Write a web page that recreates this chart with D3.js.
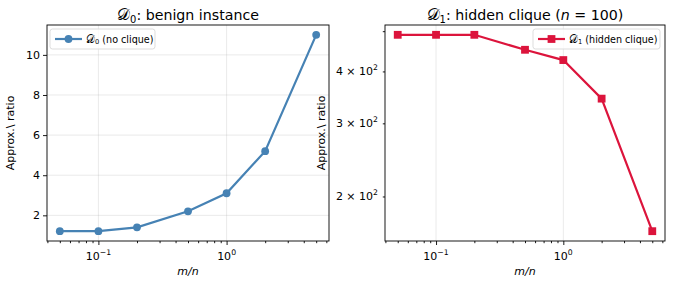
<!DOCTYPE html>
<html>
<head>
<meta charset="utf-8">
<script src="https://cdn.jsdelivr.net/npm/d3@7"></script>
<style>
  body { margin: 0; background: #fff; }
  svg { font-family: "DejaVu Sans", sans-serif; }
</style>
</head>
<body>
<svg id="vis" width="674" height="286"></svg>
<script>
// data
var ratios = [0.05, 0.1, 0.2, 0.5, 1, 2, 5];           // m/n
var benign = [1.21, 1.21, 1.4, 2.2, 3.1, 5.2, 11.0];    // D0 (no clique)
var hidden = [490, 490, 490, 451, 426, 344, 165];       // D1 (hidden clique)
var benignTicks = [2, 4, 6, 8, 10];
var hiddenTicks = [200, 300, 400, 500];
var hiddenLabels = {200: "2", 300: "3", 400: "4"};
var xMajor = [0.1, 1];

var blue = "#4682b4", red = "#dc143c";
var svg = d3.select("#vis");

// matplotlib style 5% margins
var pad = function(lo, hi) { var d = (hi - lo) * 0.05; return [lo - d, hi + d]; };
var logPad = function(vals) {
  var e = pad(Math.log10(d3.min(vals)), Math.log10(d3.max(vals)));
  return [Math.pow(10, e[0]), Math.pow(10, e[1])];
};

var yTop = 25, yBot = 241;
var panels = [
  {x0: 47, x1: 329, data: benign, color: blue, marker: "circle", log: false,
   title: ["0", ": benign instance"], legend: ["0", " (no clique)"], ylabX: 14,
   leg: {x: 50, w: 105}},
  {x0: 385, x1: 665, data: hidden, color: red, marker: "square", log: true,
   title: ["1", ": hidden clique ("], legend: ["1", " (hidden clique)"], ylabX: 325,
   leg: {x: 533, w: 127}}
];

var minors = [];
[0.01, 0.1, 1].forEach(function(dec) {
  for (var k = 2; k <= 9; k++) minors.push(dec * k);
});

panels.forEach(function(p) {
  var x = d3.scaleLog().domain(logPad(ratios)).range([p.x0, p.x1]);
  var y = p.log
    ? d3.scaleLog().domain(logPad(p.data)).range([yBot, yTop])
    : d3.scaleLinear().domain(pad(d3.min(p.data), d3.max(p.data))).range([yBot, yTop]);
  var g = svg.append("g");
  var xd = x.domain();
  var xMinor = minors.filter(function(v) { return v >= xd[0] && v <= xd[1]; });
  var yTicks = p.log ? hiddenTicks : benignTicks;

  // grid
  g.selectAll(".gx").data(xMajor).enter().append("line")
    .attr("x1", function(d) { return x(d); }).attr("x2", function(d) { return x(d); })
    .attr("y1", yTop).attr("y2", yBot)
    .attr("stroke", "#b0b0b0").attr("stroke-opacity", 0.3).attr("stroke-width", 0.9);
  g.selectAll(".gy").data(p.log ? [] : yTicks).enter().append("line")
    .attr("x1", p.x0).attr("x2", p.x1)
    .attr("y1", function(d) { return y(d); }).attr("y2", function(d) { return y(d); })
    .attr("stroke", "#b0b0b0").attr("stroke-opacity", 0.3).attr("stroke-width", 0.9);

  // x axis
  var xa = g.append("g").attr("transform", "translate(0," + yBot + ")")
    .call(d3.axisBottom(x).tickValues(xMajor).tickSize(4).tickFormat(function() { return ""; }));
  var xm = g.append("g").attr("transform", "translate(0," + yBot + ")")
    .call(d3.axisBottom(x).tickValues(xMinor).tickSize(2.2).tickFormat(function() { return ""; }));
  [xa, xm].forEach(function(a) {
    a.selectAll(".domain").remove();
    a.selectAll("text").remove();
    a.selectAll("line").attr("stroke", "#000").attr("stroke-width", 0.9);
  });
  g.selectAll(".xl").data(xMajor).enter().append("text")
    .attr("x", function(d) { return x(d); }).attr("y", yBot + 19)
    .attr("text-anchor", "middle").attr("font-size", 11)
    .each(function(d) {
      var t = d3.select(this);
      t.append("tspan").text("10");
      t.append("tspan").attr("font-size", 7.7).attr("dy", -5).text(d === 1 ? "0" : "\u22121");
    });
  g.append("text").attr("x", (p.x0 + p.x1) / 2).attr("y", 275)
    .attr("text-anchor", "middle").attr("font-size", 11).attr("font-style", "italic").text("m/n");

  // y axis
  var ya = g.append("g").attr("transform", "translate(" + p.x0 + ",0)")
    .call(d3.axisLeft(y).tickValues(yTicks).tickSize(p.log ? 2.2 : 4).tickFormat(function() { return ""; }));
  ya.selectAll(".domain").remove();
  ya.selectAll("text").remove();
  ya.selectAll("line").attr("stroke", "#000").attr("stroke-width", 0.9);
  var labelled = p.log ? yTicks.filter(function(d) { return hiddenLabels[d]; }) : yTicks;
  g.selectAll(".yl").data(labelled).enter().append("text")
    .attr("x", p.x0 - 7).attr("y", function(d) { return y(d) + 4; })
    .attr("text-anchor", "end").attr("font-size", 11)
    .each(function(d) {
      var t = d3.select(this);
      if (!p.log) { t.text(d); return; }
      t.append("tspan").text(hiddenLabels[d] + " \u00d7 10");
      t.append("tspan").attr("font-size", 7.7).attr("dy", -5).text("2");
    });
  g.append("text").attr("transform", "translate(" + p.ylabX + "," + (yTop + yBot) / 2 + ") rotate(-90)")
    .attr("text-anchor", "middle").attr("font-size", 11).text("Approx.\\ ratio");

  // frame
  g.append("rect").attr("x", p.x0).attr("y", yTop).attr("width", p.x1 - p.x0).attr("height", yBot - yTop)
    .attr("fill", "none").attr("stroke", "#000").attr("stroke-width", 0.9);

  // series
  var pts = ratios.map(function(r, i) { return [x(r), y(p.data[i])]; });
  g.append("path").attr("d", d3.line()(pts)).attr("fill", "none")
    .attr("stroke", p.color).attr("stroke-width", 2.2);
  drawMarkers(g, pts, p);

  // title
  var fsT = 14.2;
  var tt = g.append("text").attr("x", (p.x0 + p.x1) / 2).attr("y", 20)
    .attr("text-anchor", "middle").attr("font-size", fsT);
  mathD(tt, p.title[0], fsT);
  tt.append("tspan").attr("dy", -fsT * 0.2).text(p.title[1]);
  if (p.log) {
    tt.append("tspan").attr("font-style", "italic").text("n");
    tt.append("tspan").text(" = 100)");
  }

  // legend
  var lg = g.append("g").attr("transform", "translate(" + p.leg.x + ",29)");
  lg.append("rect").attr("width", p.leg.w).attr("height", 20).attr("rx", 2.5)
    .attr("fill", "#fff").attr("fill-opacity", 0.8).attr("stroke", "#d9d9d9").attr("stroke-width", 0.9);
  lg.append("line").attr("x1", 5).attr("x2", 32).attr("y1", 10).attr("y2", 10)
    .attr("stroke", p.color).attr("stroke-width", 2.2);
  drawMarkers(lg, [[18.5, 10]], p);
  var fsL = 9.6;
  var lt = lg.append("text").attr("x", 36).attr("y", 13.5).attr("font-size", fsL);
  mathD(lt, p.legend[0], fsL);
  lt.append("tspan").attr("dy", -fsL * 0.2).text(p.legend[1]);
});

function drawMarkers(g, pts, p) {
  if (p.marker === "circle") {
    g.selectAll(null).data(pts).enter().append("circle")
      .attr("cx", function(d) { return d[0]; }).attr("cy", function(d) { return d[1]; })
      .attr("r", 3.9).attr("fill", p.color);
  } else {
    g.selectAll(null).data(pts).enter().append("rect")
      .attr("x", function(d) { return d[0] - 3.9; }).attr("y", function(d) { return d[1] - 3.9; })
      .attr("width", 7.8).attr("height", 7.8).attr("fill", p.color);
  }
}

// calligraphic D with a subscript; caller shifts back up by fs*0.2
function mathD(t, sub, fs) {
  t.append("tspan").attr("font-family", "'DejaVu Serif', serif").attr("font-size", fs * 1.1).text("\ud835\udc9f");
  t.append("tspan").attr("font-size", fs * 0.7).attr("dy", fs * 0.2).text(sub);
}
</script>
</body>
</html>
